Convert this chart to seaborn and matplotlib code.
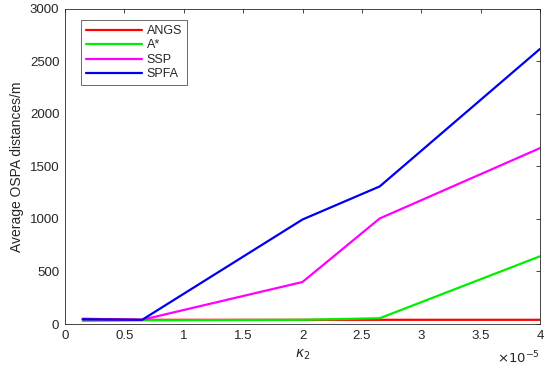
import numpy as np
import pandas as pd
import matplotlib
matplotlib.use('Agg')
import matplotlib.pyplot as plt
import seaborn as sns

# ── data (x in units of 1e-5) ─────────────────────────────────────────────
kappa2 = [0.15, 0.65, 2.0, 2.65, 4.0]
angs = [50, 40, 40, 40, 40]
astar = [30, 35, 40, 55, 645]
ssp = [45, 40, 400, 1005, 1675]
spfa = [45, 40, 995, 1310, 2620]

methods = ['ANGS', 'A*', 'SSP', 'SPFA']
colors = ['#ff0000', '#00ee00', '#ff00ff', '#0000ee']

df = pd.DataFrame({
    'kappa2': kappa2 * 4,
    'ospa': angs + astar + ssp + spfa,
    'method': [m for m in methods for _ in kappa2],
})

sns.set_theme(style='white')
plt.rcParams['font.family'] = ['Liberation Sans', 'DejaVu Sans']

fig = plt.figure(figsize=(5.5, 3.72), dpi=100)
ax = fig.add_axes([0.118, 0.129, 0.864, 0.847])

sns.lineplot(data=df, x='kappa2', y='ospa', hue='method', hue_order=methods,
             palette=colors, linewidth=1.6, ax=ax, sort=False)

ax.set_xlim(0, 4)
ax.set_ylim(0, 3000)
ax.set_xticks(np.arange(0, 4.01, 0.5))
ax.set_xticklabels(['0', '0.5', '1', '1.5', '2', '2.5', '3', '3.5', '4'])
ax.set_yticks(np.arange(0, 3001, 500))
ax.tick_params(direction='in', top=True, right=True, length=3, width=0.6,
               labelsize=9.5, colors='#262626', pad=4)
for s in ax.spines.values():
    s.set_color('#262626')
    s.set_linewidth(0.6)

ax.set_xlabel(r'$\kappa_2$', fontsize=10, labelpad=4)
ax.set_ylabel('Average OSPA distances/m', fontsize=10)
ax.text(1.0, -0.08, r'$\times10^{-5}$', transform=ax.transAxes,
        ha='right', va='top', fontsize=9.5, color='#262626')

leg = ax.legend(loc='upper left', bbox_to_anchor=(0.02, 0.985), fontsize=9,
                frameon=True, fancybox=False, handlelength=4.5,
                borderpad=0.4, labelspacing=0.2, handletextpad=0.4)
leg.get_frame().set_edgecolor('#262626')
leg.get_frame().set_linewidth(0.6)

fig.savefig('out.png', dpi=100)
